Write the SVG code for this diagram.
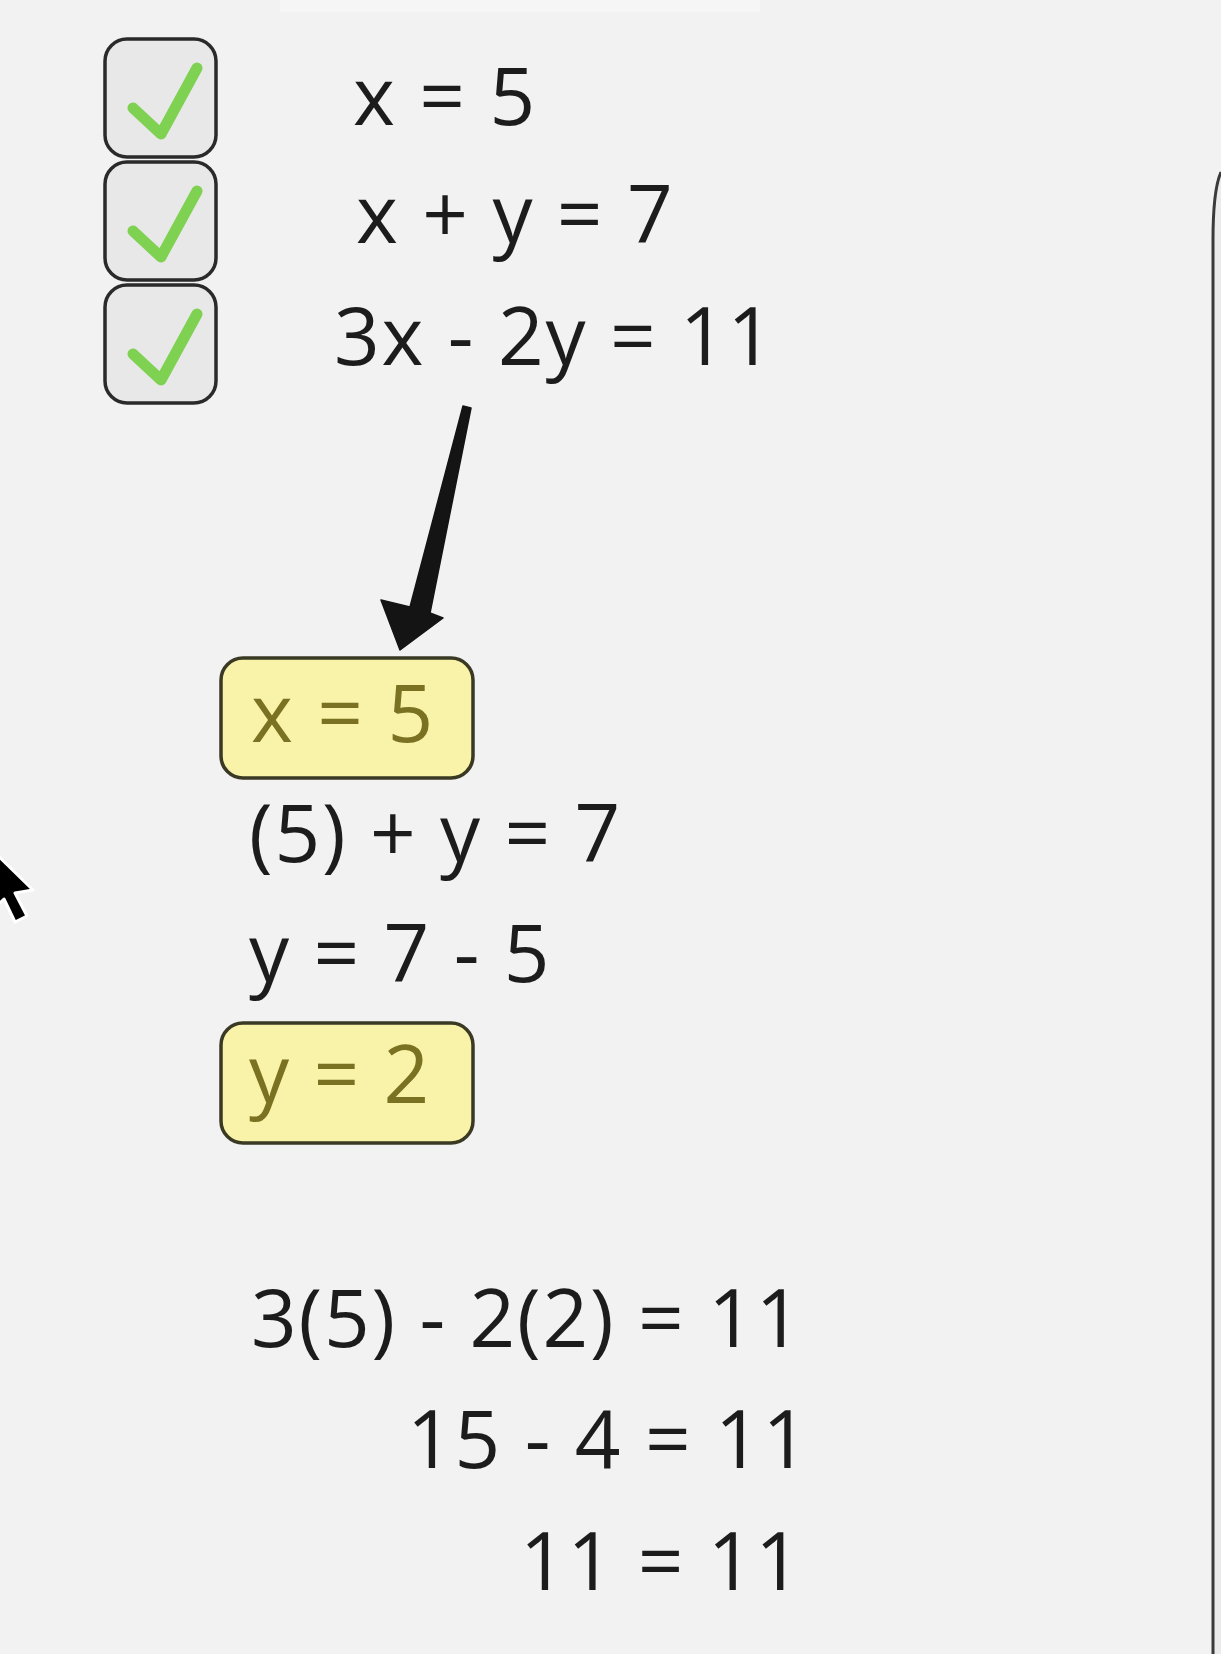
<svg xmlns="http://www.w3.org/2000/svg" width="1221" height="1654" viewBox="0 0 1221 1654">
<style>
.eq{font-family:"Open Sans","Noto Sans","DejaVu Sans",sans-serif;font-size:80px;font-weight:400;letter-spacing:1.8px;fill:#1c1c1c}
.hl{font-family:"Open Sans","Noto Sans","DejaVu Sans",sans-serif;font-size:80px;font-weight:400;letter-spacing:1.8px;fill:#7a7222}
.cb{fill:#e8e8e8;stroke:#2a2a2a;stroke-width:3.5}
.tick{fill:none;stroke:#7fd152;stroke-width:11;stroke-linecap:round;stroke-linejoin:round}
.box{fill:#f8f3a9;stroke:#3a3924;stroke-width:3.5}
</style>
<rect width="1221" height="1654" fill="#f2f2f2"/>
<rect x="280" y="0" width="480" height="12" fill="#f6f6f6"/>
<g id="panel">
<path d="M1213,1654 L1213,240 Q1213,190 1221,172 L1221,1654 Z" fill="#ebebeb"/>
<path d="M1213,1654 L1213,240 Q1213,190 1221,172" fill="none" stroke="#3a3a3a" stroke-width="3"/>
</g>
<g id="check1"><rect class="cb" x="105" y="39" width="111" height="118" rx="22"/><path class="tick" d="M133,108 L161,134 L197,68"/></g>
<g id="check2"><rect class="cb" x="105" y="162" width="111" height="118" rx="22"/><path class="tick" d="M133,231 L161,257 L197,191"/></g>
<g id="check3"><rect class="cb" x="105" y="285" width="111" height="118" rx="22"/><path class="tick" d="M133,354 L161,380 L197,314"/></g>
<g id="eq1"><text class="eq" x="353" y="125">x = 5</text></g>
<g id="eq2"><text class="eq" x="356" y="243">x + y = 7</text></g>
<g id="eq3"><text class="eq" x="334" y="365">3x - 2y = 11</text></g>
<g id="connectors">
<path d="M463,406 L471,408 L430,613 L443,618 L400,650 L381,600 L410,607 Z" fill="#141414" stroke="#141414" stroke-width="1.5" stroke-linejoin="round"/>
</g>
<g id="xbox"><rect class="box" x="221" y="658" width="252" height="120" rx="22"/><text class="hl" x="251" y="742">x = 5</text></g>
<g id="step1"><text class="eq" x="249" y="862">(5) + y = 7</text></g>
<g id="step2"><text class="eq" x="249" y="982">y = 7 - 5</text></g>
<g id="ybox"><rect class="box" x="221" y="1023" width="252" height="120" rx="22"/><text class="hl" x="249" y="1103">y = 2</text></g>
<g id="check_a"><text class="eq" x="251" y="1347">3(5) - 2(2) = 11</text></g>
<g id="check_b"><text class="eq" x="407" y="1468">15 - 4 = 11</text></g>
<g id="check_c"><text class="eq" x="520" y="1590">11 = 11</text></g>
<g id="cursor">
<path d="M-22,836 L33,890 L15,893 L27,916 L15,922 L4,899 L-10,912 Z" fill="#000" stroke="#fff" stroke-width="3" stroke-linejoin="round"/>
</g>
</svg>
